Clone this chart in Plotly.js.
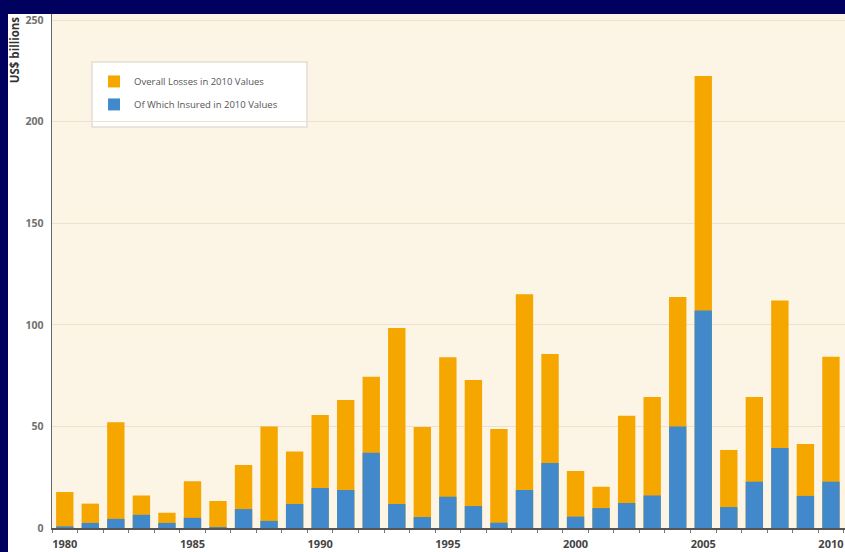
<!DOCTYPE html>
<html>
<head>
<meta charset="utf-8">
<script src="https://cdn.plot.ly/plotly-3.0.1.min.js"></script>
<style>
html,body{margin:0;padding:0;background:#00005e;width:845px;height:552px;overflow:hidden;}
#chart{position:absolute;left:8px;top:14px;width:837px;height:538px;background:#ffffff;}
</style>
</head>
<body>
<div id="chart"></div>
<script>
const years = [1980,1981,1982,1983,1984,1985,1986,1987,1988,1989,1990,1991,1992,1993,1994,1995,1996,1997,1998,1999,2000,2001,2002,2003,2004,2005,2006,2007,2008,2009,2010];
const overallLosses = [17.7,12,52,16,7.5,23,13.3,31,50,37.6,55.6,63,74.5,98.4,49.7,84,72.8,48.7,115,85.6,28,20.3,55.3,64.5,113.7,222.5,38.4,64.5,112,41.3,84.3];
const insuredLosses = [0.8,2.5,4.5,6.5,2.5,5,0.5,9.3,3.5,11.8,19.7,18.7,37,11.8,5.4,15.4,10.8,2.6,18.7,32,5.6,9.8,12.3,16,49.9,107,10.3,22.8,39.4,15.8,22.8];
const seriesNames = ["Overall Losses in 2010 Values","Of Which Insured in 2010 Values"];
const xTickVals = [1980,1985,1990,1995,2000,2005,2010];
const yTickVals = [0,50,100,150,200,250];

const traces = [
  {type:'bar', x:years, y:overallLosses, name:seriesNames[0], marker:{color:'#f5a700'}, width:0.68, legendgroup:'a'},
  {type:'bar', x:years, y:insuredLosses, name:seriesNames[1], marker:{color:'#4289cb'}, width:0.68, legendgroup:'b'}
];

const layout = {
  width:837, height:538,
  margin:{l:44, r:0, t:0, b:24},
  paper_bgcolor:'#ffffff',
  plot_bgcolor:'#fcf4e4',
  barmode:'overlay',
  showlegend:true,
  legend:{x:0.053, y:0.897, xanchor:'left', yanchor:'top', bgcolor:'rgba(0,0,0,0)', borderwidth:0,
          font:{family:'Open Sans, sans-serif', size:9.5, color:'#555555'}, tracegroupgap:4, traceorder:'grouped'},
  xaxis:{range:[1979.5,2010.55], tickmode:'array', tickvals:xTickVals, ticktext:xTickVals.map(String),
         showgrid:false, zeroline:false, showline:true, linecolor:'#555555', linewidth:2,
         ticks:'', ticklabelstandoff:5, tickfont:{family:'Open Sans, sans-serif', size:11, color:'#444444', weight:'bold'},
         minor:{tickmode:'linear', tick0:1979.5, dtick:1, ticks:'outside', ticklen:3, tickcolor:'#777777', showgrid:false},
         fixedrange:true},
  yaxis:{range:[0,253], tickmode:'array', tickvals:yTickVals, ticktext:yTickVals.map(String),
         showgrid:true, gridcolor:'#ebe1cc', gridwidth:1, zeroline:false, showline:true, linecolor:'#666666', linewidth:1.5,
         ticks:'', ticklabelstandoff:5, ticklabeloverflow:'allow',
         tickfont:{family:'Open Sans, sans-serif', size:10.5, color:'#707070', weight:'bold'}, fixedrange:true},
  shapes:[
    {type:'rect', xref:'paper', yref:'paper', x0:0.0504, x1:0.3216, y0:0.780, y1:0.9066,
     fillcolor:'#ffffff', line:{color:'#e2ddd5', width:1.5}, layer:'below'}
  ],
  annotations:[
    {text:'US$ billions', xref:'paper', yref:'paper', x:-0.047, y:1.0, xanchor:'center', yanchor:'top',
     textangle:-90, showarrow:false, font:{family:'Open Sans, sans-serif', size:11.5, color:'#333333', weight:'bold'}}
  ]
};

Plotly.newPlot('chart', traces, layout, {displayModeBar:false, staticPlot:true});
</script>
</body>
</html>
